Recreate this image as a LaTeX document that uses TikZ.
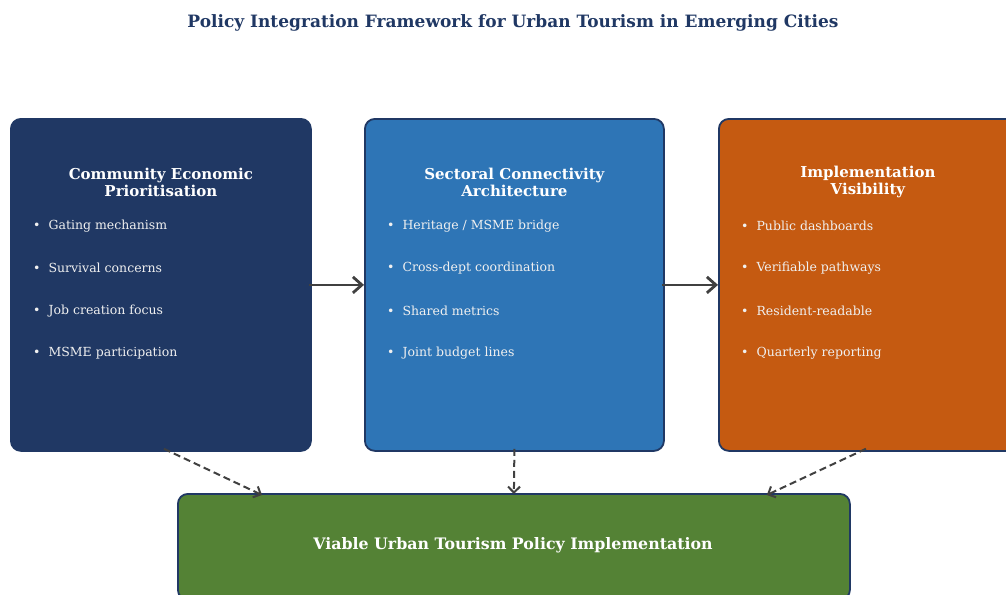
\documentclass[tikz,border=0pt]{standalone}
\usepackage{fontspec}
\setmainfont{DejaVu Serif}
\usetikzlibrary{arrows.meta,calc}
\definecolor{navy}{HTML}{203864}
\definecolor{midblue}{HTML}{2E75B6}
\definecolor{rust}{HTML}{C55A11}
\definecolor{leaf}{HTML}{548235}
\definecolor{arrowgrey}{HTML}{404040}
\definecolor{itemwhite}{HTML}{F0F0F0}
\tikzset{
  panel/.style={draw=navy, line width=1.8pt, rounded corners=10pt, anchor=north west, inner sep=0pt},
  heading/.style={text=white, font=\bfseries\fontsize{15}{17}\selectfont, align=center},
  item/.style={text=itemwhite, font=\fontsize{12.5}{14}\selectfont, anchor=west, inner sep=0pt},
  flow/.style={draw=arrowgrey, line width=2.8pt, -{Straight Barb[length=9pt,width=16pt,line width=2.8pt]}},
  feed/.style={draw=arrowgrey, line width=2pt, dash pattern=on 7pt off 4pt, -{Straight Barb[length=6pt,width=12pt,line width=2pt]}}
}
\begin{document}
\begin{tikzpicture}[x=1pt,y=-1pt]
\useasboundingbox (0,0) rectangle (1006,594);
\clip (0,0) rectangle (1006,594);

% title
\node[text=navy, font=\bfseries\fontsize{17}{20}\selectfont] (title) at (513,23) {Policy Integration Framework for Urban Tourism in Emerging Cities};

% three pillar panels
\node[panel, fill=navy, minimum width=300pt, minimum height=332pt] (p1) at (10,118) {};
\node[panel, fill=midblue, minimum width=299pt, minimum height=332pt] (p2) at (364,118) {};
\node[panel, fill=rust, minimum width=298pt, minimum height=332pt] (p3) at (718,118) {};

% outcome panel
\node[panel, fill=leaf, minimum width=672pt, minimum height=106pt] (out) at (177,493) {};
\node[text=white, font=\bfseries\fontsize{15.8}{18}\selectfont] (outlabel) at (513,545) {Viable Urban Tourism Policy Implementation};

% headings
\node[heading] (h1) at ($(p1.north)+(0,64)$) {Community Economic\\Prioritisation};
\node[heading] (h2) at ($(p2.north)+(0,64)$) {Sectoral Connectivity\\Architecture};
\node[heading] (h3) at ($(p3.north)+(0,64)$) {Implementation\\Visibility};

% bullet lists
\foreach \p/\a/\b/\c/\d in {
  p1/{Gating mechanism}/{Survival concerns}/{Job creation focus}/{MSME participation},
  p2/{Heritage {/} MSME bridge}/{Cross-dept coordination}/{Shared metrics}/{Joint budget lines},
  p3/{Public dashboards}/{Verifiable pathways}/{Resident-readable}/{Quarterly reporting}}{
  \node[item] (\p-i1) at ($(\p.north west)+(23,108)$) {•\hspace{8pt}\a};
  \node[item] (\p-i2) at ($(\p.north west)+(23,150)$) {•\hspace{8pt}\b};
  \node[item] (\p-i3) at ($(\p.north west)+(23,193)$) {•\hspace{8pt}\c};
  \node[item] (\p-i4) at ($(\p.north west)+(23,235)$) {•\hspace{8pt}\d};
}

% connectors
\draw[flow] ($(p1.east)+(-3,0)$) -- (p2.west);
\draw[flow] ($(p2.east)+(-3,0)$) -- (p3.west);
\draw[feed] ($(p1.south)+(3,-3)$) -- ($(out.north west)+(85,2)$);
\draw[feed] ($(p2.south)+(0,-3)$) -- ($(out.north)+(0,1)$);
\draw[feed] ($(p3.south)+(-2,-3)$) -- ($(out.north east)+(-84,2)$);
\end{tikzpicture}
\end{document}
